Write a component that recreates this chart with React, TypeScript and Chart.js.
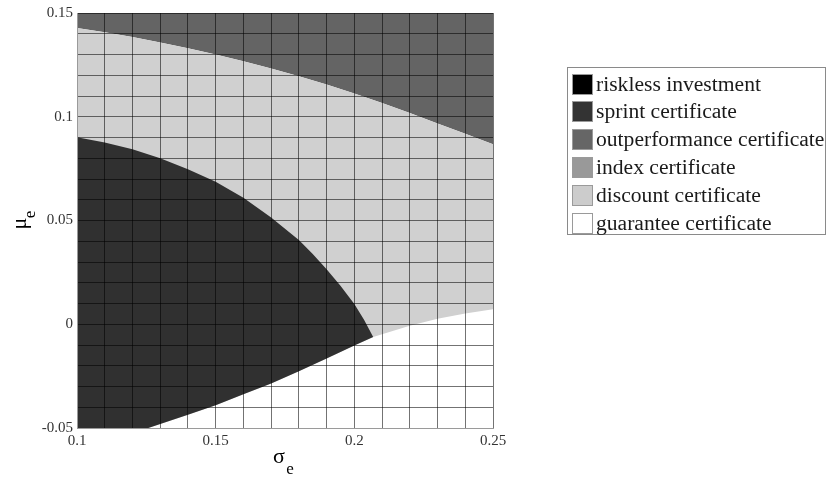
import React, { useEffect, useRef } from "react";
import { Chart, registerables } from "chart.js";

Chart.register(...registerables);

// Axis ranges
const X_MIN = 0.1;
const X_MAX = 0.25;
const Y_MIN = -0.05;
const Y_MAX = 0.15;
const GRID_STEP = 0.01;
const LABEL_STEP = 0.05;

// Boundary: outperformance (above) / discount (below)
const upperX = [0.10, 0.11, 0.12, 0.13, 0.14, 0.15, 0.16, 0.17, 0.18, 0.19, 0.20, 0.21, 0.22, 0.23, 0.24, 0.25];
const upperY = [0.1428, 0.1407, 0.1384, 0.1358, 0.1330, 0.1300, 0.1267, 0.1232, 0.1195, 0.1155, 0.1112, 0.1066, 0.1018, 0.0968, 0.0918, 0.0868];

// Boundary: sprint (below) / discount (above)
const sprintUpperX = [0.10, 0.11, 0.12, 0.13, 0.14, 0.15, 0.16, 0.17, 0.18, 0.185, 0.19, 0.195, 0.20, 0.2035, 0.2068];
const sprintUpperY = [0.0901, 0.0876, 0.0843, 0.0800, 0.0747, 0.0687, 0.0610, 0.0515, 0.0406, 0.0339, 0.0265, 0.0185, 0.0098, 0.0022, -0.0062];

// Boundary: sprint (above) / guarantee (below)
const sprintLowerX = [0.2068, 0.20, 0.19, 0.18, 0.17, 0.16, 0.15, 0.14, 0.1257];
const sprintLowerY = [-0.0062, -0.0102, -0.0165, -0.0226, -0.0285, -0.0337, -0.0390, -0.0436, -0.05];

// Boundary: discount (above) / guarantee (below)
const guaranteeUpperX = [0.2068, 0.21, 0.22, 0.23, 0.24, 0.25];
const guaranteeUpperY = [-0.0062, -0.0048, -0.0007, 0.0027, 0.0052, 0.0072];

// Legend
const legendLabels = [
  "riskless investment",
  "sprint certificate",
  "outperformance certificate",
  "index certificate",
  "discount certificate",
  "guarantee certificate",
];
const legendColors = ["#000000", "#333333", "#666666", "#999999", "#cccccc", "#ffffff"];

const pts = (xs: number[], ys: number[]) => xs.map((x, i) => ({ x, y: ys[i] }));

const fmt = (v: number) => String(Math.round(v * 100) / 100);

const isLabel = (v: number) => Math.abs(v / LABEL_STEP - Math.round(v / LABEL_STEP)) < 1e-6;

export default function App() {
  const ref = useRef<HTMLCanvasElement | null>(null);

  useEffect(() => {
    if (!ref.current) return;

    const upper = pts(upperX, upperY);
    const sUp = pts(sprintUpperX, sprintUpperY);
    const sLow = pts(sprintLowerX, sprintLowerY);
    const gUp = pts(guaranteeUpperX, guaranteeUpperY);

    const outperfPoly = [...upper, { x: X_MAX, y: Y_MAX }, { x: X_MIN, y: Y_MAX }];
    const discountPoly = [...upper, { x: X_MAX, y: Y_MIN }, { x: X_MIN, y: Y_MIN }];
    const guaranteePoly = [...sLow.slice().reverse(), ...gUp.slice(1), { x: X_MAX, y: Y_MIN }];
    const sprintPoly = [...sUp, ...sLow.slice(1), { x: X_MIN, y: Y_MIN }];

    const mk = (data: any[], color: string, order: number) => ({
      data,
      showLine: true,
      fill: "shape",
      backgroundColor: color,
      borderColor: "rgba(0,0,0,0)",
      borderWidth: 0,
      pointRadius: 0,
      pointHoverRadius: 0,
      tension: 0,
      order,
    });

    const overlay = {
      id: "overlay",
      afterDraw(chart: any) {
        const ctx = chart.ctx as CanvasRenderingContext2D;
        const area = chart.chartArea;
        ctx.save();
        // Axis titles
        ctx.fillStyle = "#000";
        ctx.textAlign = "center";
        ctx.textBaseline = "middle";
        const cx = (area.left + area.right) / 2;
        ctx.font = "22px 'Liberation Serif', serif";
        ctx.fillText("σ", cx - 6, 457);
        ctx.font = "17px 'Liberation Serif', serif";
        ctx.fillText("e", cx + 5, 470);

        const cy = (area.top + area.bottom) / 2;
        ctx.save();
        ctx.translate(20, cy + 3);
        ctx.rotate(-Math.PI / 2);
        ctx.font = "22px 'Liberation Serif', serif";
        ctx.fillText("μ", 0, 0);
        ctx.font = "17px 'Liberation Serif', serif";
        ctx.fillText("e", 9, 11);
        ctx.restore();

        // Legend
        const lx = 567.5, ly = 67.5, lw = 258, lh = 167;
        ctx.fillStyle = "#ffffff";
        ctx.fillRect(lx, ly, lw, lh);
        ctx.strokeStyle = "#8a8a8a";
        ctx.lineWidth = 1;
        ctx.strokeRect(lx, ly, lw, lh);
        ctx.textAlign = "left";
        ctx.textBaseline = "middle";
        ctx.font = "21.6px 'Liberation Serif', serif";
        legendLabels.forEach((label, i) => {
          const yc = 84 + i * 27.8;
          ctx.fillStyle = legendColors[i];
          ctx.fillRect(572, Math.round(yc - 10.5), 21, 21);
          ctx.strokeStyle = "#9a9a9a";
          ctx.strokeRect(572.5, Math.round(yc - 10.5) + 0.5, 20, 20);
          ctx.fillStyle = "#1a1a1a";
          ctx.fillText(label, 596, yc + 1);
        });
        ctx.restore();
      },
    };

    const tickFont = { family: "'Liberation Serif', serif", size: 15 };
    const gridOpts = { color: "rgba(0,0,0,0.55)", lineWidth: 1, drawTicks: false, z: 1 };

    const chart = new Chart(ref.current, {
      type: "scatter",
      data: {
        datasets: [
          mk(sprintPoly, "#303030", 1),
          mk(guaranteePoly, "#ffffff", 2),
          mk(discountPoly, "#d0d0d0", 3),
          mk(outperfPoly, "#646464", 4),
        ] as any,
      },
      options: {
        animation: false,
        responsive: true,
        maintainAspectRatio: false,
        events: [],
        layout: { padding: { left: 0, top: 13, right: 827 - 493, bottom: 0 } },
        plugins: {
          legend: { display: false },
          tooltip: { enabled: false },
        },
        scales: {
          x: {
            type: "linear",
            min: X_MIN,
            max: X_MAX,
            afterFit: (s: any) => { s.height = 477 - 428; },
            grid: gridOpts,
            border: { display: true, color: "#9a9a9a", width: 1, z: 2 },
            ticks: {
              stepSize: GRID_STEP,
              autoSkip: false,
              maxRotation: 0,
              minRotation: 0,
              maxTicksLimit: 1000,
              padding: 4,
              color: "#333",
              font: tickFont,
              callback: (v: any) => (isLabel(Number(v)) ? fmt(Number(v)) : ""),
            },
          },
          y: {
            type: "linear",
            min: Y_MIN,
            max: Y_MAX,
            afterFit: (s: any) => { s.width = 77; },
            grid: gridOpts,
            border: { display: true, color: "#9a9a9a", width: 1, z: 2 },
            ticks: {
              stepSize: GRID_STEP,
              autoSkip: false,
              maxTicksLimit: 1000,
              padding: 4,
              color: "#333",
              font: tickFont,
              callback: (v: any) => (isLabel(Number(v)) ? fmt(Number(v)) : ""),
            },
          },
        },
      } as any,
      plugins: [overlay],
    });

    return () => chart.destroy();
  }, []);

  return (
    <div style={{ position: "fixed", left: 0, top: 0, width: 827, height: 477, background: "#fff" }}>
      <canvas ref={ref} />
    </div>
  );
}
